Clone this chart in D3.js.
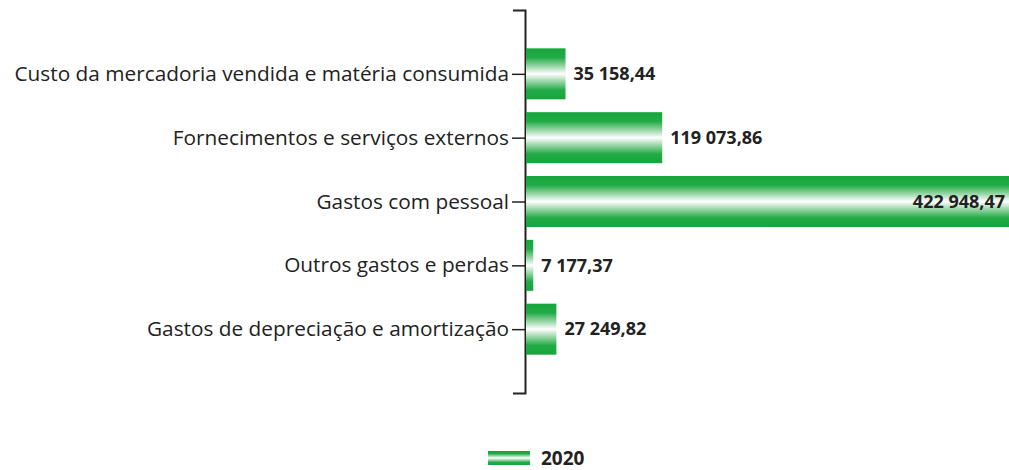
<!DOCTYPE html>
<html><head><meta charset="utf-8">
<script src="https://cdn.jsdelivr.net/npm/d3@7"></script>
<style>body{margin:0;background:#fff}svg{display:block}</style>
</head><body>
<script>
const categories = [
  "Custo da mercadoria vendida e matéria consumida",
  "Fornecimentos e serviços externos",
  "Gastos com pessoal",
  "Outros gastos e perdas",
  "Gastos de depreciação e amortização"
];
const values2020 = [35158.44, 119073.86, 422948.47, 7177.37, 27249.82];
const valueLabels = ["35 158,44", "119 073,86", "422 948,47", "7 177,37", "27 249,82"];
const seriesName = "2020";

const W = 1009, H = 470;
const svg = d3.select("body").append("svg").attr("width", W).attr("height", H);

const defs = svg.append("defs");
const grad = defs.append("linearGradient").attr("id", "barGrad")
  .attr("x1", 0).attr("y1", 0).attr("x2", 0).attr("y2", 1);
[[0, "#16a53c"], [0.18, "#22ab45"], [0.36, "#9fd8ad"], [0.5, "#ffffff"], [0.64, "#9fd8ad"], [0.82, "#22ab45"], [1, "#16a53c"]]
  .forEach(([o, c]) => grad.append("stop").attr("offset", o).attr("stop-color", c));

const axisX = 525;
const y = d3.scalePoint().domain(categories).range([10, 393]).padding(1);
const x = d3.scaleLinear().domain([0, 440000]).range([axisX, axisX + 507]);
const barH = 51;

const font = "'Open Sans', 'Noto Sans', sans-serif";

// axis
const axisG = svg.append("g").attr("transform", `translate(${axisX},0)`)
  .call(d3.axisLeft(y).tickSize(13).tickSizeOuter(12).tickPadding(3));
axisG.select(".domain").attr("stroke", "#222").attr("stroke-width", 2);
axisG.selectAll(".tick line").attr("stroke", "#222").attr("stroke-width", 1.5);
axisG.selectAll(".tick text").attr("fill", "#222").style("font-family", font).style("font-size", "20.8px");

// bars
svg.append("g").selectAll("rect").data(values2020).join("rect")
  .attr("x", axisX + 1)
  .attr("y", (d, i) => y(categories[i]) - barH / 2)
  .attr("width", d => x(d) - axisX - 1)
  .attr("height", barH)
  .attr("fill", "url(#barGrad)");

// value labels
svg.append("g").selectAll("text").data(values2020).join("text")
  .attr("x", (d, i) => x(d) > W - 40 ? W - 4 : x(d) + 8)
  .attr("y", (d, i) => y(categories[i]))
  .attr("dy", "0.35em")
  .attr("text-anchor", (d) => x(d) > W - 40 ? "end" : "start")
  .attr("fill", "#222")
  .style("font-family", font).style("font-size", "18px").style("font-weight", "bold")
  .text((d, i) => valueLabels[i]);

// legend
const lg = svg.append("g").attr("transform", "translate(488,451)");
lg.append("rect").attr("x", 0).attr("y", 0).attr("width", 42).attr("height", 14).attr("fill", "url(#barGrad)");
lg.append("text").attr("x", 53).attr("y", 7).attr("dy", "0.35em")
  .attr("fill", "#222").style("font-family", font).style("font-size", "19px").style("font-weight", "bold")
  .text(seriesName);
</script>
</body></html>
